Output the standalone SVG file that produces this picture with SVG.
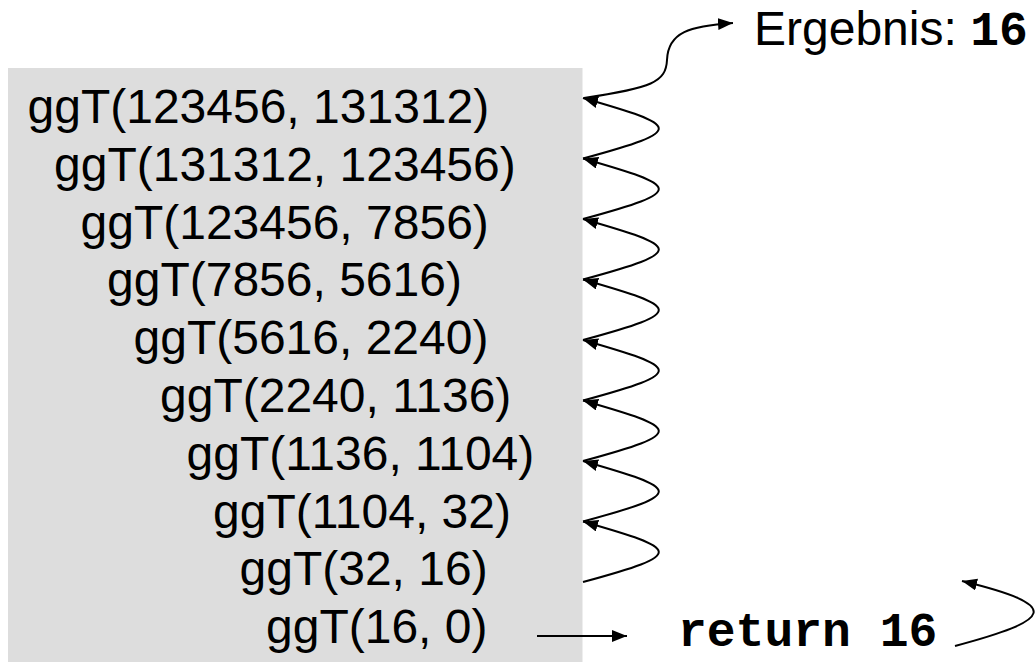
<svg xmlns="http://www.w3.org/2000/svg" width="1036" height="662" viewBox="0 0 1036 662">
<style>
.t{font-family:"Liberation Sans",Arial,sans-serif;font-size:48px;fill:#000}
.m{font-family:"Liberation Mono","Courier New",monospace;font-size:48px;font-weight:bold;fill:#000}
.c{fill:none;stroke:#000;stroke-width:2}
</style>
<defs>
<marker id="ah" markerUnits="userSpaceOnUse" markerWidth="17" markerHeight="13" refX="15" refY="6" orient="auto">
<path d="M0,0 L15,6 L0,12 z" fill="#000"/>
</marker>
</defs>
<rect id="box" x="8" y="68" width="574.5" height="600" fill="#dddddd"/>
<g id="calls">
<text class="t" x="27.5" y="123">ggT(123456, 131312)</text>
<text class="t" x="54" y="180.8">ggT(131312, 123456)</text>
<text class="t" x="80.5" y="238.6">ggT(123456, 7856)</text>
<text class="t" x="107" y="296.4">ggT(7856, 5616)</text>
<text class="t" x="133.5" y="354.2">ggT(5616, 2240)</text>
<text class="t" x="160" y="412">ggT(2240, 1136)</text>
<text class="t" x="186.5" y="469.8">ggT(1136, 1104)</text>
<text class="t" x="213" y="527.6">ggT(1104, 32)</text>
<text class="t" x="239.5" y="585.4">ggT(32, 16)</text>
<text class="t" x="266" y="643">ggT(16, 0)</text>
</g>
<g id="result"><text x="754" y="45"><tspan class="t">Ergebnis: </tspan><tspan class="m">16</tspan></text></g>
<g id="return"><text class="m" x="678" y="646">return 16</text></g>
<g id="connectors">
<path class="c" marker-end="url(#ah)" d="M584,98 C652,88 666,82 667,60 C668,32 690,26 733,23"/>
<path class="c" marker-end="url(#ah)" d="M583,158.5 C688,130 680,126 583,98"/>
<path class="c" marker-end="url(#ah)" d="M583,219 C688,190.5 680,186.5 583,158.5"/>
<path class="c" marker-end="url(#ah)" d="M583,279.5 C688,251 680,247 583,219"/>
<path class="c" marker-end="url(#ah)" d="M583,340 C688,311.5 680,307.5 583,279.5"/>
<path class="c" marker-end="url(#ah)" d="M583,400.5 C688,372 680,368 583,340"/>
<path class="c" marker-end="url(#ah)" d="M583,461 C688,432.5 680,428.5 583,400.5"/>
<path class="c" marker-end="url(#ah)" d="M583,521.5 C688,493 680,489 583,461"/>
<path class="c" marker-end="url(#ah)" d="M583,582 C688,553.5 680,549.5 583,521.5"/>
<path class="c" marker-end="url(#ah)" d="M537,636 L627,636"/>
<path class="c" marker-end="url(#ah)" d="M955,646 C1052,620 1065,606 962,581"/>
</g>
</svg>
